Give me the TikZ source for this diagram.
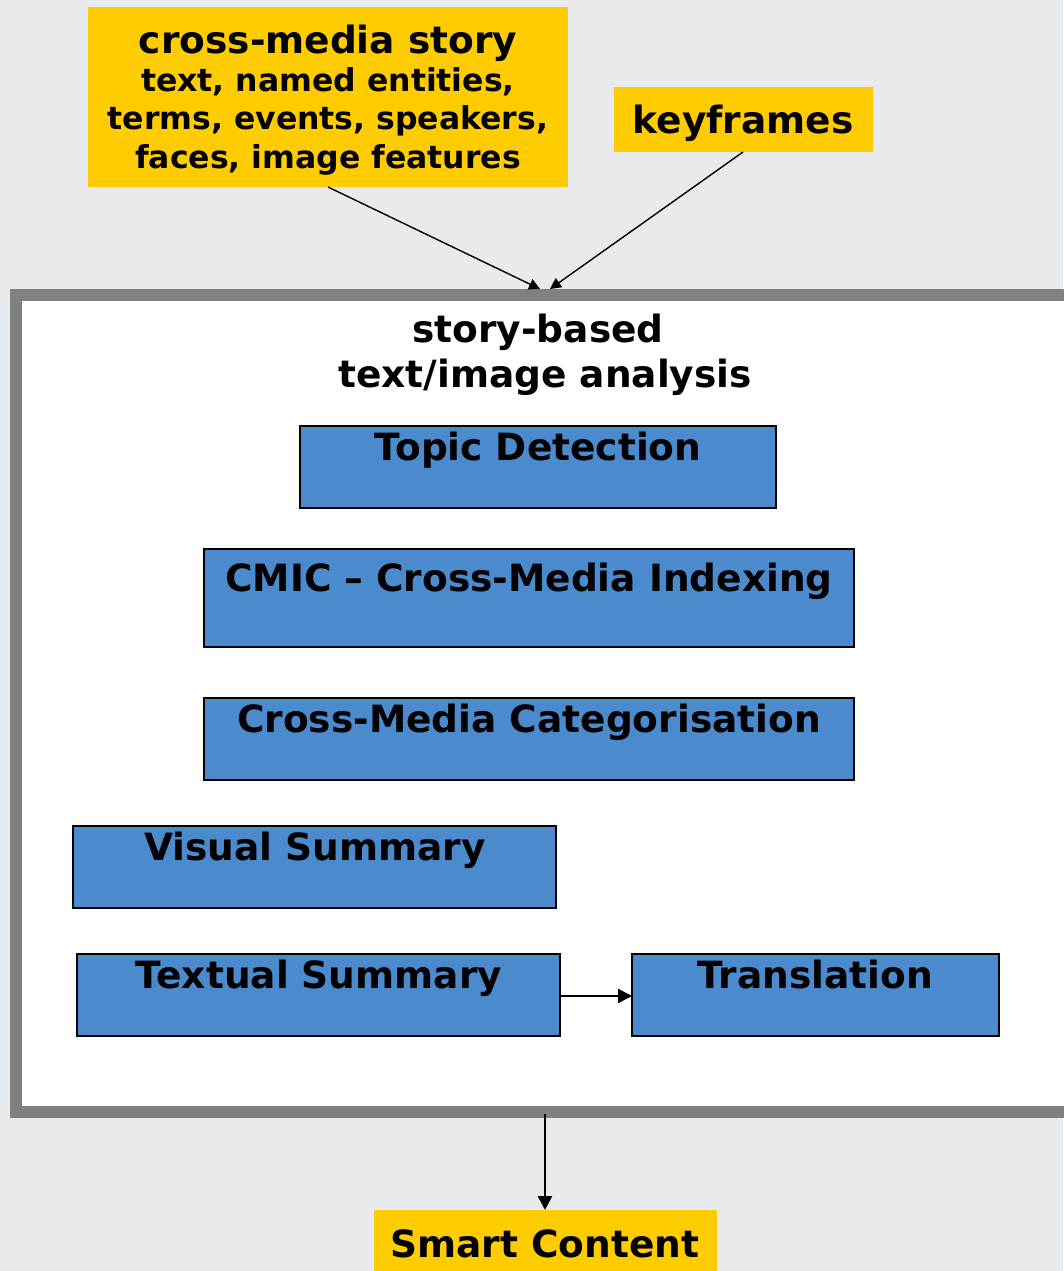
\documentclass[tikz,border=0pt]{standalone}
\usepackage{fontspec}
\setmainfont{DejaVu Sans}
\usetikzlibrary{arrows.meta}
\definecolor{bg}{HTML}{E7EBEE}
\definecolor{ylw}{HTML}{FFCC00}
\definecolor{blu}{HTML}{4A8ACD}
\definecolor{frm}{HTML}{808080}
\tikzset{
  ybox/.style={fill=ylw, draw=none, inner sep=0pt, outer sep=0pt, anchor=north west},
  bbox/.style={fill=blu, draw=black, line width=2pt, inner sep=0pt, outer sep=0pt, anchor=north west},
  lbl/.style={font=\bfseries\fontsize{37.5}{40}\selectfont, inner sep=0pt, anchor=base},
  sublbl/.style={font=\bfseries\fontsize{31.5}{38}\selectfont, inner sep=0pt, anchor=base},
  conn/.style={line width=1.4pt, -{Triangle[length=11pt,width=11pt]}},
  bconn/.style={line width=2.5pt, -{Triangle[length=14pt,width=14pt]}},
}
\begin{document}
\begin{tikzpicture}[x=1pt,y=-1pt]
\fill[bg] (0,0) rectangle (1063,1271);
\useasboundingbox (0,0) rectangle (1063,1271);
% main frame
\node[fill=white, draw=frm, line width=12pt, inner sep=0pt, outer sep=0pt, anchor=north west, minimum width=1070pt, minimum height=817pt] (frame) at (16,295) {};
% top inputs
\node[ybox, minimum width=480pt, minimum height=180pt] (story) at (88,7) {};
\node[lbl] (storyT) at (328,54) {cross-media story};
\node[sublbl] (storyS1) at (328,92) {text, named entities,};
\node[sublbl] (storyS2) at (328,130) {terms, events, speakers,};
\node[sublbl] (storyS3) at (328,168) {faces, image features};
\node[ybox, minimum width=259pt, minimum height=65pt] (key) at (614,87) {};
\node[lbl] (keyT) at (743,134) {keyframes};
\coordinate (in1) at (540,289);
\coordinate (in2) at (550,289);
\coordinate (s1) at (328,187);
\coordinate (s2) at (743,152);
\draw[conn] (s1) -- (in1);
\draw[conn] (s2) -- (in2);
% title
\node[lbl] (title1) at (538,342) {story-based};
\node[lbl] (title2) at (545,387) {text/image analysis};
% blue boxes
\node[bbox, minimum width=476pt, minimum height=82pt] (topic) at (300,426) {};
\node[lbl] (topicT) at (538,460) {Topic Detection};
\node[bbox, minimum width=650pt, minimum height=98pt] (cmic) at (204,549) {};
\node[lbl] (cmicT) at (529,591) {CMIC – Cross-Media Indexing};
\node[bbox, minimum width=650pt, minimum height=82pt] (cat) at (204,698) {};
\node[lbl] (catT) at (529,732) {Cross-Media Categorisation};
\node[bbox, minimum width=483pt, minimum height=82pt] (vis) at (73,826) {};
\node[lbl] (visT) at (315,860) {Visual Summary};
\node[bbox, minimum width=483pt, minimum height=82pt] (txt) at (77,954) {};
\node[lbl] (txtT) at (319,988) {Textual Summary};
\node[bbox, minimum width=367pt, minimum height=82pt] (trans) at (632,954) {};
\node[lbl] (transT) at (815,988) {Translation};
\draw[bconn] ([yshift=-1pt]txt.east) -- ([yshift=-1pt]trans.west);
% output
\node[ybox, minimum width=343pt, minimum height=70pt] (smart) at (374,1210) {};
\node[lbl] (smartT) at (545,1257) {Smart Content};
\coordinate (outS) at (545,1114);
\draw[bconn] (outS) -- (smart.north -| outS);
\end{tikzpicture}
\end{document}
